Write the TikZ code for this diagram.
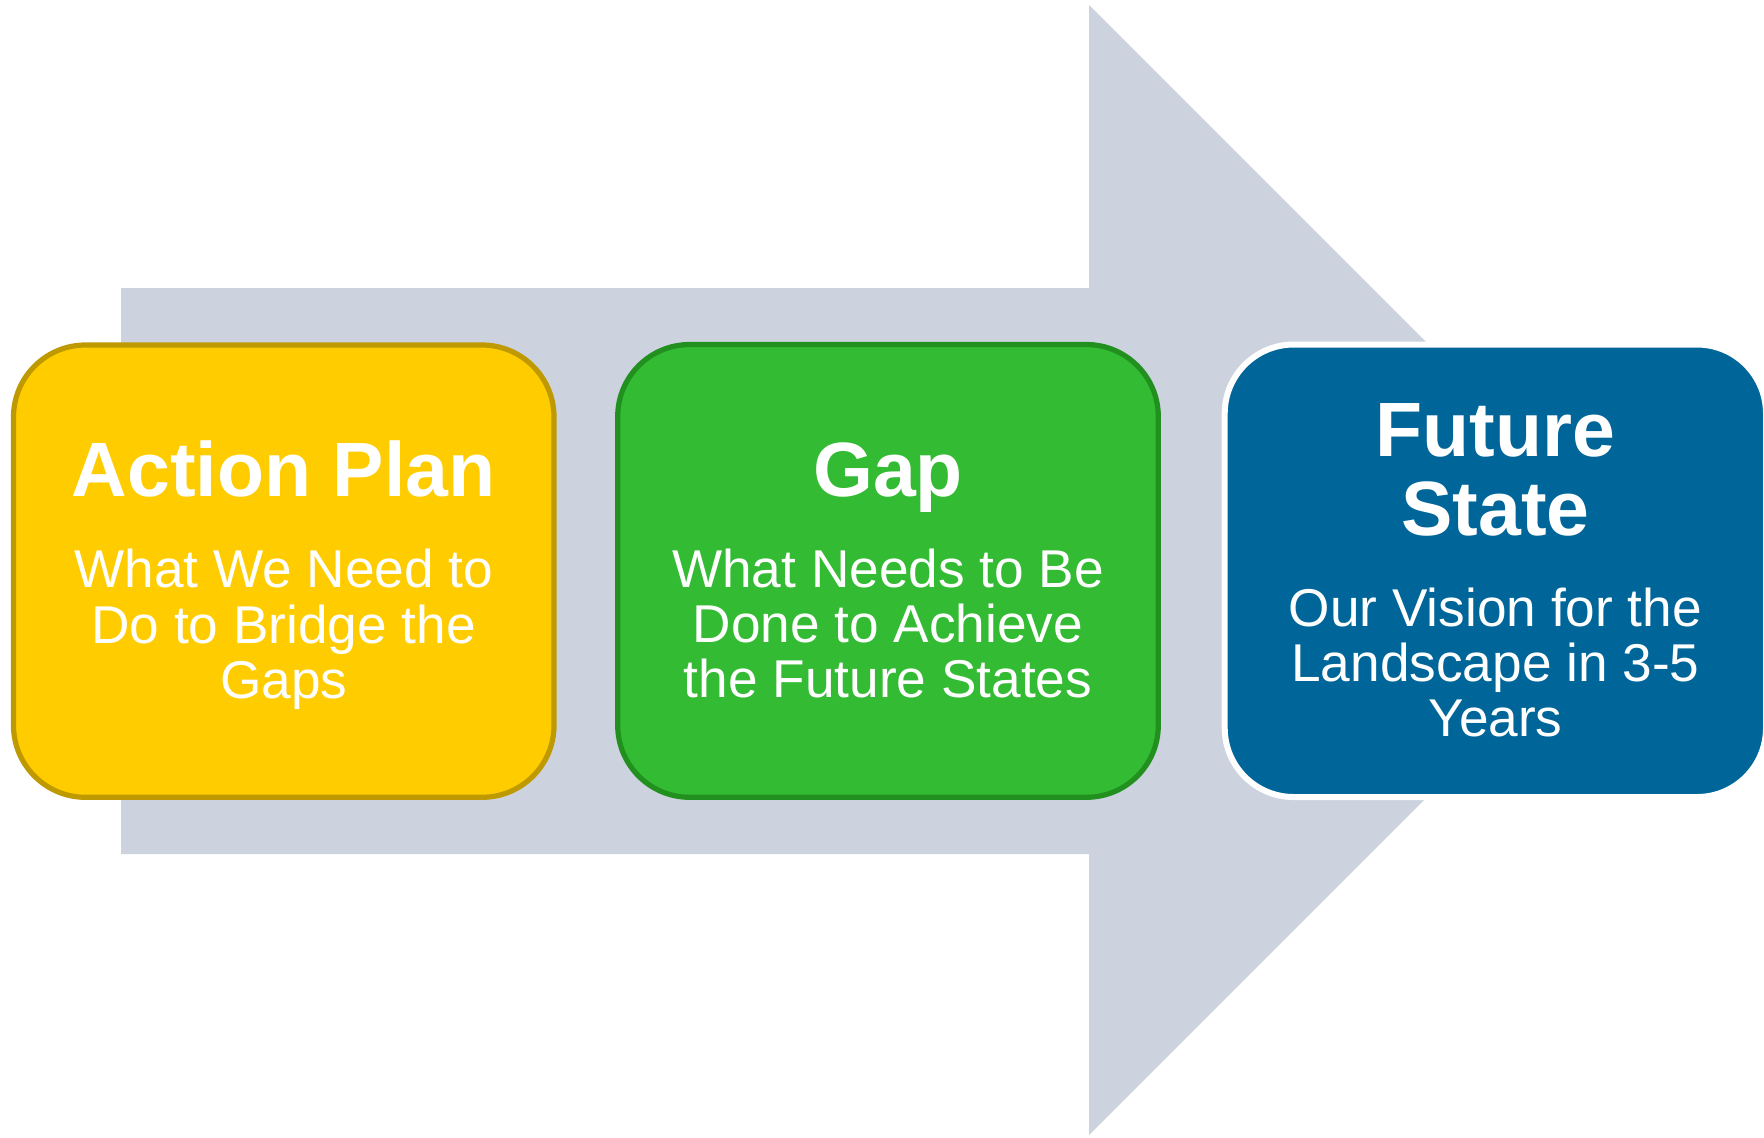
\documentclass[tikz,border=0pt]{standalone}
\usepackage{fontspec}
\setmainfont{Liberation Sans}
\definecolor{arrowgray}{HTML}{CCD3DF}
\definecolor{apfill}{HTML}{FFCC00}
\definecolor{apline}{HTML}{BF9900}
\definecolor{gapfill}{HTML}{33BB33}
\definecolor{gapline}{HTML}{21901F}
\definecolor{fsfill}{HTML}{006699}
\begin{document}
\begin{tikzpicture}[x=0.5pt,y=-0.5pt,
  box/.style={rectangle, rounded corners=36pt, line width=2.6pt, inner sep=0pt, outer sep=0pt},
  ttl/.style={text=white, font=\fontsize{38.5}{39.5}\selectfont\bfseries, anchor=base, align=center, inner sep=0pt},
  sub/.style={text=white, font=\fontsize{26.6}{27.65}\selectfont, anchor=base, align=center, inner sep=0pt}]
\useasboundingbox (0,0) rectangle (1764,1137);
\fill[white] (0,0) rectangle (1764,1137);
% big arrow
\fill[arrowgray] (121,288) -- (1089,288) -- (1089,5) -- (1654,570) -- (1089,1135) -- (1089,854) -- (121,854) -- cycle;
% boxes
\node[box, fill=apfill, draw=apline, minimum width=270.25pt, minimum height=226.15pt] (ap) at (283.75,571.15) {};
\node[box, fill=gapfill, draw=gapline, minimum width=270.3pt, minimum height=226.4pt] (gap) at (888,570.9) {};
\node[box, rounded corners=34.5pt, line width=3pt, fill=fsfill, draw=white, minimum width=270.65pt, minimum height=226.25pt] (fs) at (1495.35,570.75) {};
% texts (anchor = baseline of the last line)
\node[ttl] (apt) at (283.7,496.7) {Action Plan};
\node[sub] (aps) at (283.7,698.3) {What We Need to\\Do to Bridge the\\Gaps};
\node[ttl] (gapt) at (888,496) {Gap};
\node[sub] (gaps) at (888,697.7) {What Needs to Be\\Done to Achieve\\the Future States};
\node[ttl] (fst) at (1495.4,535) {Future\\State};
\node[sub] (fss) at (1495.4,736.7) {Our Vision for the\\Landscape in 3-5\\Years};
\end{tikzpicture}
\end{document}
